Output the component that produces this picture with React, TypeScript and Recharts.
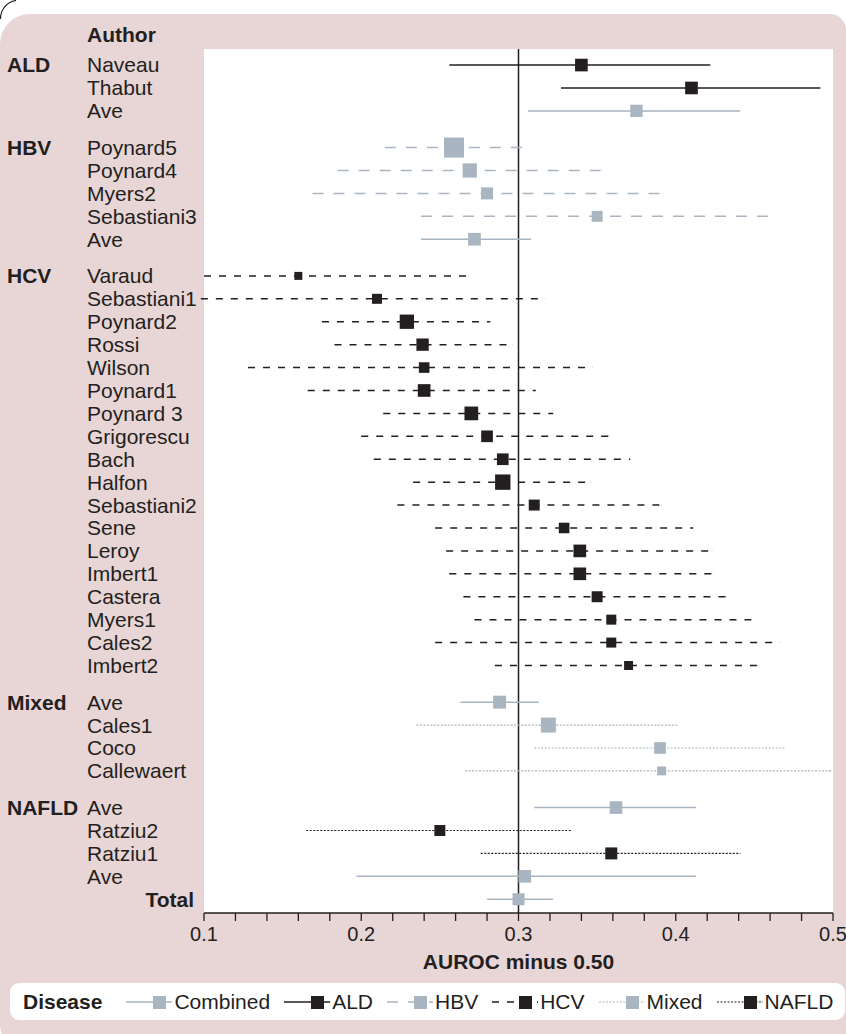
import React from "react";
import {
  ScatterChart,
  Scatter,
  XAxis,
  YAxis,
  ErrorBar,
  ReferenceLine,
  CartesianGrid,
  Legend,
} from "recharts";

const BLACK = "#231f20";
const GREY = "#a9b5c1";
const PINK = "#e8d5d5";
const FONT = "'Liberation Sans', Arial, Helvetica, sans-serif";

// ALD
const aldAuthors = ["Naveau", "Thabut", "Ave"];
const aldEst = [0.34, 0.41, 0.375];
const aldLow = [0.256, 0.327, 0.306];
const aldHigh = [0.422, 0.492, 0.441];
const aldWeight = [40, 40, 38];

// HBV
const hbvAuthors = ["Poynard5", "Poynard4", "Myers2", "Sebastiani3", "Ave"];
const hbvEst = [0.259, 0.269, 0.28, 0.35, 0.272];
const hbvLow = [0.215, 0.185, 0.169, 0.238, 0.238];
const hbvHigh = [0.303, 0.353, 0.392, 0.462, 0.308];
const hbvWeight = [100, 51, 36, 30, 40];

// HCV
const hcvAuthors = [
  "Varaud", "Sebastiani1", "Poynard2", "Rossi", "Wilson", "Poynard1",
  "Poynard 3", "Grigorescu", "Bach", "Halfon", "Sebastiani2", "Sene",
  "Leroy", "Imbert1", "Castera", "Myers1", "Cales2", "Imbert2",
];
const hcvEst = [0.16, 0.21, 0.229, 0.239, 0.24, 0.24, 0.27, 0.28, 0.29, 0.29, 0.31, 0.329, 0.339, 0.339, 0.35, 0.359, 0.359, 0.37];
const hcvLow = [0.1, 0.098, 0.175, 0.183, 0.128, 0.166, 0.214, 0.2, 0.208, 0.233, 0.223, 0.247, 0.254, 0.256, 0.265, 0.272, 0.247, 0.285];
const hcvHigh = [0.268, 0.317, 0.282, 0.296, 0.347, 0.311, 0.322, 0.358, 0.371, 0.346, 0.391, 0.411, 0.423, 0.423, 0.432, 0.448, 0.466, 0.452];
const hcvWeight = [16, 25, 51, 38, 28, 40, 47, 34, 34, 59, 30, 28, 40, 40, 30, 25, 25, 20];

// Mixed
const mixedAuthors = ["Ave", "Cales1", "Coco", "Callewaert"];
const mixedEst = [0.288, 0.319, 0.39, 0.391];
const mixedLow = [0.263, 0.235, 0.31, 0.266];
const mixedHigh = [0.313, 0.401, 0.469, 0.499];
const mixedWeight = [42, 56, 34, 20];

// NAFLD
const nafldAuthors = ["Ave", "Ratziu2", "Ratziu1", "Ave"];
const nafldEst = [0.362, 0.25, 0.359, 0.304];
const nafldLow = [0.31, 0.165, 0.276, 0.197];
const nafldHigh = [0.413, 0.334, 0.441, 0.413];
const nafldWeight = [40, 30, 36, 40];

// Total
const totalEst = 0.3;
const totalLow = 0.28;
const totalHigh = 0.322;
const totalWeight = 36;

const xTicks = [0.1, 0.12, 0.14, 0.16, 0.18, 0.2, 0.22, 0.24, 0.26, 0.28, 0.3, 0.32, 0.34, 0.36, 0.38, 0.4, 0.42, 0.44, 0.46, 0.48, 0.5];
const xTickLabels = [0.1, 0.2, 0.3, 0.4, 0.5];

const groups = [
  { disease: "ALD", authors: aldAuthors, est: aldEst, lo: aldLow, hi: aldHigh, w: aldWeight },
  { disease: "HBV", authors: hbvAuthors, est: hbvEst, lo: hbvLow, hi: hbvHigh, w: hbvWeight },
  { disease: "HCV", authors: hcvAuthors, est: hcvEst, lo: hcvLow, hi: hcvHigh, w: hcvWeight },
  { disease: "Mixed", authors: mixedAuthors, est: mixedEst, lo: mixedLow, hi: mixedHigh, w: mixedWeight },
  { disease: "NAFLD", authors: nafldAuthors, est: nafldEst, lo: nafldLow, hi: nafldHigh, w: nafldWeight },
];

type Row = {
  pos: number;
  author: string;
  groupLabel: string | null;
  series: string;
  x: number;
  err: [number, number];
  w: number;
  total?: boolean;
};

const GROUP_GAP = 0.6;
const rows: Row[] = [];
let pos = 0;
groups.forEach((g, gi) => {
  if (gi > 0) pos += GROUP_GAP;
  g.authors.forEach((a, i) => {
    rows.push({
      pos,
      author: a,
      groupLabel: i === 0 ? g.disease : null,
      series: a === "Ave" ? "Combined" : g.disease,
      x: g.est[i],
      err: [g.est[i] - g.lo[i], g.hi[i] - g.est[i]],
      w: g.w[i],
    });
    pos += 1;
  });
});
rows.push({
  pos,
  author: "Total",
  groupLabel: null,
  series: "Combined",
  x: totalEst,
  err: [totalEst - totalLow, totalHigh - totalEst],
  w: totalWeight,
  total: true,
});

const seriesStyles = [
  { name: "Combined", color: GREY, width: 1.5, dash: undefined as string | undefined },
  { name: "ALD", color: BLACK, width: 1.5, dash: undefined },
  { name: "HBV", color: GREY, width: 1.5, dash: "11 10" },
  { name: "HCV", color: BLACK, width: 1.5, dash: "7 8" },
  { name: "Mixed", color: GREY, width: 1.2, dash: "2 1.5" },
  { name: "NAFLD", color: BLACK, width: 1.2, dash: "2 1.5" },
];

const renderSquare = (props: any) => {
  const { cx, cy, payload, fill } = props;
  const s = 2 * Math.sqrt(payload.w);
  return <rect x={cx - s / 2} y={cy - s / 2} width={s} height={s} fill={fill} />;
};

const RowTick = (props: any) => {
  const { y, payload, index } = props;
  const row = rows.find((r) => Math.abs(r.pos - payload.value) < 1e-6);
  if (!row) return null;
  const common = { fontFamily: FONT, fontSize: 21, fill: BLACK, dy: "0.355em" };
  return (
    <g>
      {index === 0 && (
        <text x={87} y={y - 30} {...common} fontWeight="bold">
          Author
        </text>
      )}
      {row.groupLabel && (
        <text x={7} y={y} {...common} fontWeight="bold">
          {row.groupLabel}
        </text>
      )}
      {row.total ? (
        <text x={194} y={y} {...common} fontWeight="bold" textAnchor="end">
          Total
        </text>
      ) : (
        <text x={87} y={y} {...common}>
          {row.author}
        </text>
      )}
    </g>
  );
};

const LegendIcon = ({ name }: { name: string }) => {
  const st = seriesStyles.find((s) => s.name === name)!;
  return (
    <svg width={46} height={16} style={{ display: "block" }}>
      <line
        x1={0}
        y1={8}
        x2={46}
        y2={8}
        stroke={st.color}
        strokeWidth={st.width}
        strokeDasharray={st.dash}
      />
      <rect x={27} y={2} width={13} height={13} fill={st.color} />
    </svg>
  );
};

const renderLegend = () => (
  <div
    style={{
      background: "#fff",
      borderRadius: 9,
      height: 37,
      display: "flex",
      alignItems: "center",
      paddingLeft: 13,
      fontFamily: FONT,
      fontSize: 21,
      color: BLACK,
      boxSizing: "border-box",
    }}
  >
    <span style={{ fontWeight: "bold", marginRight: 24 }}>Disease</span>
    {seriesStyles.map((s) => (
      <span key={s.name} style={{ display: "flex", alignItems: "center", marginRight: 14 }}>
        <LegendIcon name={s.name} />
        <span style={{ marginLeft: 2 }}>{s.name}</span>
      </span>
    ))}
  </div>
);

export default function App() {
  return (
    <div
      style={{
        position: "absolute",
        left: 0,
        top: 0,
        width: 846,
        height: 1034,
        overflow: "hidden",
        background: "#fff",
      }}
    >
      <div
        style={{
          position: "absolute",
          left: 0,
          top: 14,
          width: 846,
          height: 1040,
          background: PINK,
          borderTopLeftRadius: 30,
          borderTopRightRadius: 16,
          borderBottomLeftRadius: 30,
        }}
      />
      <svg width={30} height={30} style={{ position: "absolute", left: 0, top: 0 }}>
        <path d="M0.5,19 A 18 18 0 0 1 16,0.5" fill="none" stroke={BLACK} strokeWidth={1.2} />
      </svg>
      <ScatterChart
        width={846}
        height={1034}
        margin={{ top: 49, right: 13, bottom: 65, left: 0 }}
        style={{ position: "absolute", left: 0, top: 0 }}
      >
        <CartesianGrid horizontal={false} vertical={false} fill="#fff" stroke="none" />
        <XAxis
          type="number"
          dataKey="x"
          domain={[0.1, 0.5]}
          allowDataOverflow
          ticks={xTicks}
          interval={0}
          tickFormatter={(v: number) =>
            xTickLabels.some((l) => Math.abs(l - v) < 1e-9) ? String(v) : ""
          }
          height={56}
          tickSize={8}
          tickMargin={6}
          stroke={BLACK}
          strokeWidth={1.3}
          tick={{ fill: BLACK, fontSize: 20, fontFamily: FONT }}
          label={{
            value: "AUROC minus 0.50",
            position: "insideBottom",
            offset: 0,
            fill: BLACK,
            fontSize: 21,
            fontWeight: "bold",
            fontFamily: FONT,
          }}
        />
        <YAxis
          type="number"
          dataKey="pos"
          domain={[-0.7, 37]}
          reversed
          allowDataOverflow
          ticks={rows.map((r) => r.pos)}
          interval={0}
          width={204}
          axisLine={false}
          tickLine={false}
          tick={<RowTick />}
        />
        <ReferenceLine x={0.3} stroke={BLACK} strokeWidth={1.5} />
        {seriesStyles.map((s) => (
          <Scatter
            key={s.name}
            name={s.name}
            data={rows.filter((r) => r.series === s.name)}
            fill={s.color}
            shape={renderSquare}
            isAnimationActive={false}
          >
            <ErrorBar
              dataKey="err"
              direction="x"
              width={0}
              stroke={s.color}
              strokeWidth={s.width}
              strokeDasharray={s.dash}
              isAnimationActive={false}
            />
          </Scatter>
        ))}
        <Legend
          layout="horizontal"
          verticalAlign="middle"
          align="center"
          wrapperStyle={{ top: 983, left: 10, width: 835, height: 37 }}
          content={renderLegend}
        />
      </ScatterChart>
    </div>
  );
}
